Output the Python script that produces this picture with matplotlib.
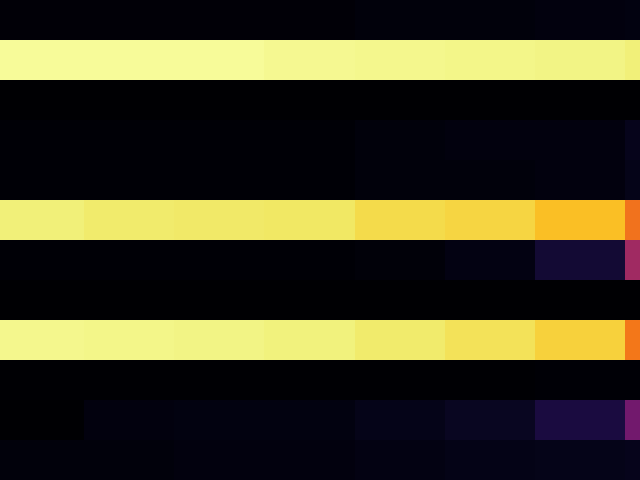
import numpy as np
import matplotlib
matplotlib.use("Agg")
import matplotlib.pyplot as plt

# cell values (12 rows x 8 columns, inferno scale 0..1)
row0 = [0.015, 0.015, 0.015, 0.015, 0.02, 0.022, 0.025, 0.028]
row1 = [0.985, 0.985, 0.985, 0.98, 0.975, 0.97, 0.965, 0.955]
row2 = [0.0, 0.0, 0.0, 0.0, 0.0, 0.0, 0.0, 0.0]
row3 = [0.01, 0.01, 0.01, 0.01, 0.02, 0.025, 0.025, 0.05]
row4 = [0.01, 0.01, 0.01, 0.01, 0.02, 0.022, 0.025, 0.045]
row5 = [0.955, 0.945, 0.94, 0.935, 0.91, 0.895, 0.855, 0.69]
row6 = [0.01, 0.01, 0.01, 0.01, 0.018, 0.035, 0.09, 0.43]
row7 = [0.0, 0.0, 0.0, 0.0, 0.0, 0.0, 0.0, 0.0]
row8 = [0.975, 0.97, 0.965, 0.96, 0.945, 0.925, 0.89, 0.7]
row9 = [0.005, 0.005, 0.005, 0.005, 0.005, 0.006, 0.008, 0.01]
row10 = [0.003, 0.025, 0.028, 0.03, 0.045, 0.06, 0.11, 0.32]
row11 = [0.02, 0.022, 0.024, 0.026, 0.035, 0.04, 0.045, 0.05]

data = np.array([row0, row1, row2, row3, row4, row5, row6,
                 row7, row8, row9, row10, row11])

fig = plt.figure(figsize=(6.4, 4.8), dpi=100)
ax = fig.add_axes([0, 0, 1, 1])
ax.imshow(data, cmap="inferno", vmin=0, vmax=1, aspect="auto",
          interpolation="nearest")
ax.set_xlim(-0.43, 6.657)
ax.set_ylim(11.5, -0.5)
ax.axis("off")
fig.savefig("out.png", dpi=100)
